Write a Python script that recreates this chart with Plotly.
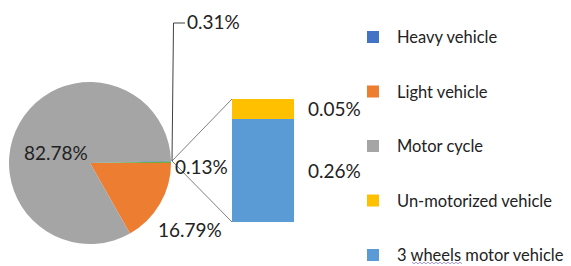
import plotly.graph_objects as go

# ---- data ----
pie_labels = ["Light vehicle", "Motor cycle", "Heavy vehicle", "Other"]
pie_values = [16.79, 82.78, 0.13, 0.31]
pie_colors = ["#ED7D31", "#A5A5A5", "#4472C4", "#70AD47"]

bar_labels = ["3 wheels motor vehicle", "Un-motorized vehicle"]
bar_values = [0.26, 0.05]
bar_colors = ["#5B9BD5", "#FFC000"]

legend_names = ["Heavy vehicle", "Light vehicle", "Motor cycle",
                "Un-motorized vehicle", "3 wheels motor vehicle"]
legend_colors = ["#4472C4", "#ED7D31", "#A5A5A5", "#FFC000", "#5B9BD5"]

W, H = 571, 266
FONT = "Lato"
TXT = "#222222"


def px(x):
    return x / W


def py(y):
    return 1 - y / H


fig = go.Figure()

# pie
cx, cy, r = 90, 163, 81
fig.add_trace(go.Pie(
    labels=pie_labels, values=pie_values, sort=False,
    direction="clockwise", rotation=90,
    marker=dict(colors=pie_colors, line=dict(width=0)),
    textinfo="none", hoverinfo="label+percent", showlegend=False,
    domain=dict(x=[px(cx - r), px(cx + r)], y=[py(cy + r), py(cy - r)]),
))

# stacked bar (pie's "other" breakdown)
for name, val, col in zip(bar_labels, bar_values, bar_colors):
    fig.add_trace(go.Bar(x=["Other"], y=[val], name=name, marker=dict(color=col, line=dict(width=0)),
                         width=1, showlegend=False))

bar_l, bar_r, bar_t, bar_b = 232, 294, 99, 222
total_other = sum(bar_values)
fig.update_layout(
    barmode="stack", bargap=0,
    xaxis=dict(domain=[px(bar_l), px(bar_r)], visible=False, range=[-0.5, 0.5]),
    yaxis=dict(domain=[py(bar_b), py(bar_t)], visible=False, range=[0, total_other]),
    width=W, height=H, margin=dict(l=0, r=0, t=0, b=0),
    paper_bgcolor="white", plot_bgcolor="rgba(0,0,0,0)",
    font=dict(family=FONT, color=TXT),
)

shapes = []
annotations = []

# connector lines pie -> bar
ex, ey = cx + r + 1, cy - 2
for yy in (bar_t, bar_b):
    shapes.append(dict(type="line", xref="paper", yref="paper",
                       x0=px(ex), y0=py(ey), x1=px(bar_l), y1=py(yy),
                       line=dict(color="#7F7F7F", width=1)))

# leader line for "other" label
shapes.append(dict(type="path", xref="paper", yref="paper",
                   path=f"M {px(ex)} {py(ey)} L {px(173.5)} {py(23)} L {px(185)} {py(23)}",
                   line=dict(color="#404040", width=1)))


def label(text, x, y, xanchor="center", size=19):
    annotations.append(dict(text=text, x=px(x), y=py(y), xref="paper", yref="paper",
                            xanchor=xanchor, yanchor="middle", showarrow=False,
                            font=dict(size=size)))


pct = {lab: v for lab, v in zip(pie_labels, pie_values)}
label(f"{pct['Motor cycle']:.2f}%", 56, 152)
label(f"{pct['Light vehicle']:.2f}%", 190, 229)
label(f"{pct['Heavy vehicle']:.2f}%", 173, 166, "left")
label(f"{pct['Other']:.2f}%", 185, 21, "left")

# bar segment labels
base = 0
for val in bar_values:
    annotations.append(dict(text=f"{val:.2f}%", x=0.5, y=base + val / 2, xref="x", yref="y",
                            xanchor="left", yanchor="middle", xshift=12, showarrow=False,
                            font=dict(size=19)))
    base += val

# legend
leg_x, leg_text_x = 367, 395
leg_y0, leg_dy, sq = 37, 54.5, 12
for i, (name, col) in enumerate(zip(legend_names, legend_colors)):
    yc = leg_y0 + i * leg_dy
    shapes.append(dict(type="rect", xref="paper", yref="paper",
                       x0=px(leg_x), x1=px(leg_x + sq), y0=py(yc + sq / 2), y1=py(yc - sq / 2),
                       fillcolor=col, line=dict(width=0)))
    label(name, leg_text_x, yc, "left", 16.5)

# spell-check squiggle under "wheels" (as in the source screenshot)
sx0, sx1, sy = 412, 462, 263
pts = []
x = sx0
k = 0
while x <= sx1:
    pts.append(f"{'M' if k == 0 else 'L'} {px(x)} {py(sy + (0.8 if k % 2 else -0.8))}")
    x += 2
    k += 1
shapes.append(dict(type="path", xref="paper", yref="paper", path=" ".join(pts),
                   line=dict(color="#8E7CC3", width=0.8)))

fig.update_layout(shapes=shapes, annotations=annotations)
fig.write_html("out.html", config={"displayModeBar": False},
               post_script="document.body.style.margin='0';document.body.style.padding='0';")
